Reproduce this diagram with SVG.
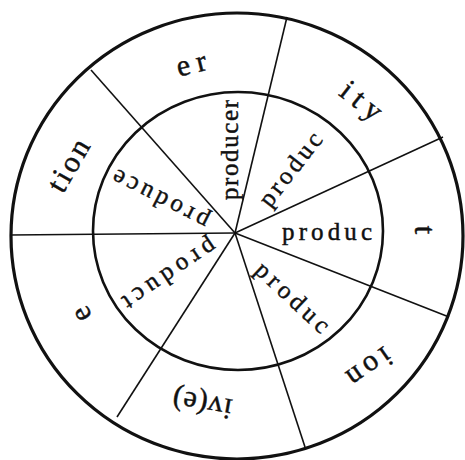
<svg xmlns="http://www.w3.org/2000/svg" width="465" height="460" viewBox="0 0 465 460">
<style>
.ring{fill:none;stroke:#111}
.spoke{stroke:#111;stroke-width:1.6;fill:none}
text{font-family:"Liberation Serif","DejaVu Serif",serif;fill:#111;stroke:#111;stroke-width:0.45;text-anchor:middle;dominant-baseline:central}
.in{font-size:25px}
.out{font-size:30px}
</style>
<rect width="465" height="460" fill="#fff"/>
<g id="outer-ring"><ellipse class="ring" cx="237" cy="236" rx="226" ry="223" stroke-width="3.2"/></g>
<g id="inner-ring"><ellipse class="ring" cx="238" cy="231" rx="145" ry="139" stroke-width="2.6"/></g>
<g id="connectors">
<line class="spoke" x1="235" y1="233" x2="287" y2="17"/>
<line class="spoke" x1="235" y1="233" x2="443" y2="137"/>
<line class="spoke" x1="235" y1="233" x2="449" y2="317"/>
<line class="spoke" x1="235" y1="233" x2="305" y2="447"/>
<line class="spoke" x1="235" y1="233" x2="117" y2="417"/>
<line class="spoke" x1="235" y1="233" x2="10" y2="235"/>
<line class="spoke" x1="235" y1="233" x2="91" y2="70"/>
</g>
<g id="inner-labels">
<text class="in" transform="translate(229,150) rotate(-90)" textLength="100" lengthAdjust="spacing">producer</text>
<text class="in" transform="translate(290,169) rotate(-52)" textLength="87" lengthAdjust="spacing">produc</text>
<text class="in" transform="translate(327,231)" textLength="90" lengthAdjust="spacing">produc</text>
<text class="in" transform="translate(293,297) rotate(43)" textLength="92" lengthAdjust="spacing">produc</text>
<text class="in" transform="translate(160,200) rotate(207)" textLength="105" lengthAdjust="spacing">produce</text>
<text class="in" transform="translate(170,275) rotate(146)" textLength="108" lengthAdjust="spacing">product</text>
</g>
<g id="outer-labels">
<text class="out" transform="translate(191,63) rotate(-14)" textLength="30" lengthAdjust="spacing">er</text>
<text class="out" transform="translate(362,100) rotate(38)" textLength="45" lengthAdjust="spacing">ity</text>
<text class="out" transform="translate(425,230) rotate(90)">t</text>
<text class="out" transform="translate(370,368) rotate(145)" textLength="48" lengthAdjust="spacing">ion</text>
<text class="out" transform="translate(202,405) rotate(190)" textLength="60" lengthAdjust="spacing">iv(e)</text>
<text class="out" transform="translate(80,315) rotate(242)">e</text>
<text class="out" transform="translate(68,165) rotate(-60)" textLength="56" lengthAdjust="spacing">tion</text>
</g>
</svg>
